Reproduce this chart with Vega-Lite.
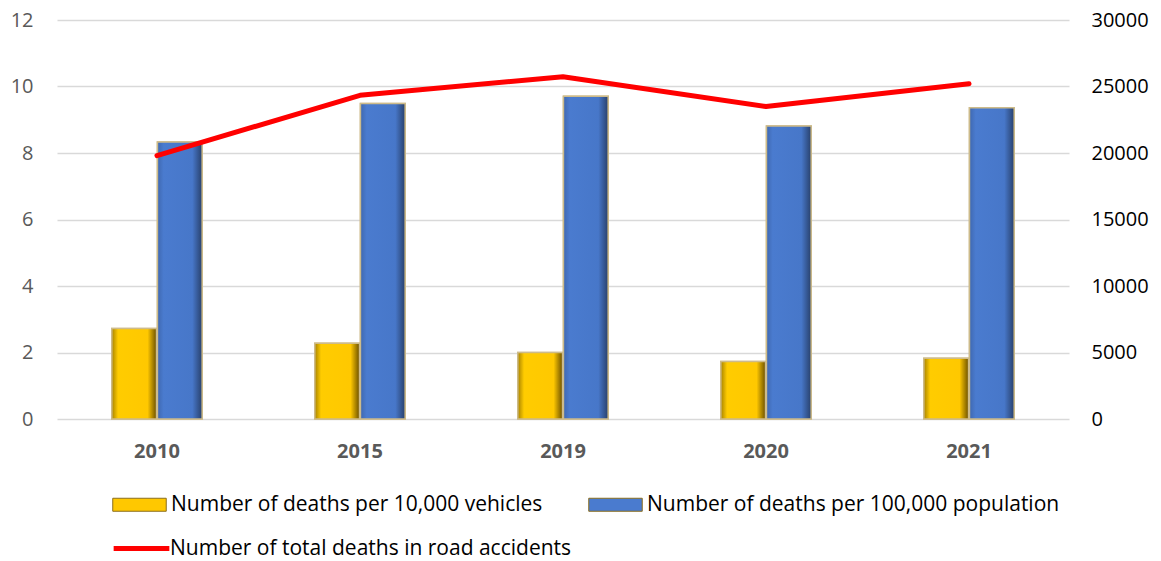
{
  "$schema": "https://vega.github.io/schema/vega-lite/v6.json",
  "autosize": {"type": "none"},
  "width": 1012,
  "height": 399,
  "padding": {"left": 57, "top": 20, "right": 92, "bottom": 142},
  "background": "white",
  "config": {
    "view": {"stroke": null},
    "font": "Open Sans"
  },
  "datasets": {
    "rates": [
      {"year": "2010", "series": "Number of deaths per 10,000 vehicles", "value": 2.72},
      {"year": "2010", "series": "Number of deaths per 100,000 population", "value": 8.33},
      {"year": "2015", "series": "Number of deaths per 10,000 vehicles", "value": 2.28},
      {"year": "2015", "series": "Number of deaths per 100,000 population", "value": 9.49},
      {"year": "2019", "series": "Number of deaths per 10,000 vehicles", "value": 2.0},
      {"year": "2019", "series": "Number of deaths per 100,000 population", "value": 9.71},
      {"year": "2020", "series": "Number of deaths per 10,000 vehicles", "value": 1.73},
      {"year": "2020", "series": "Number of deaths per 100,000 population", "value": 8.81},
      {"year": "2021", "series": "Number of deaths per 10,000 vehicles", "value": 1.83},
      {"year": "2021", "series": "Number of deaths per 100,000 population", "value": 9.36}
    ],
    "deaths": [
      {"year": "2010", "deaths": 19800},
      {"year": "2015", "deaths": 24340},
      {"year": "2019", "deaths": 25740},
      {"year": "2020", "deaths": 23490},
      {"year": "2021", "deaths": 25210}
    ]
  },
  "encoding": {
    "x": {
      "field": "year",
      "type": "ordinal",
      "scale": {"paddingInner": 0.555, "paddingOuter": 0.27},
      "axis": {
        "title": null,
        "labelAngle": 0,
        "labelFontSize": 20,
        "labelFontWeight": "bold",
        "labelColor": "#595959",
        "labelPadding": 22,
        "ticks": false,
        "domain": false
      }
    }
  },
  "layer": [
    {
      "data": {"name": "rates"},
      "encoding": {
        "xOffset": {"field": "series", "type": "nominal", "scale": {"paddingInner": 0.02}},
        "y": {
          "field": "value",
          "type": "quantitative",
          "scale": {"domain": [0, 12]},
          "axis": {
            "title": null,
            "values": [0, 2, 4, 6, 8, 10, 12],
            "labelFontSize": 20,
            "labelColor": "#595959",
            "labelPadding": 24,
            "ticks": false,
            "domain": false,
            "grid": true,
            "gridColor": "#D9D9D9",
            "gridWidth": 1.5
          }
        }
      },
      "layer": [
        {
          "mark": {"type": "bar", "stroke": "#CDBB8A", "strokeWidth": 1.5},
          "encoding": {
            "fill": {
              "field": "series",
              "type": "nominal",
              "scale": {
                "domain": ["Number of deaths per 10,000 vehicles", "Number of deaths per 100,000 population"],
                "range": ["#FFC800", "#4A7BCF"]
              },
              "legend": {
                "title": null,
                "orient": "none",
                "legendX": 55,
                "legendY": 457,
                "direction": "horizontal",
                "columns": 2,
                "columnPadding": 43,
                "padding": 0,
                "symbolType": "M-1,-0.243H1V0.243H-1Z",
                "symbolSize": 2862,
                "symbolStrokeColor": "#8A6D1E",
                "symbolStrokeWidth": 1,
                "labelFontSize": 21,
                "labelColor": "#000000",
                "labelOffset": 4,
                "labelLimit": 600
              }
            }
          }
        },
        {
          "transform": [{"filter": "datum.series == 'Number of deaths per 10,000 vehicles'"}],
          "mark": {
            "type": "bar",
            "stroke": "#CDBB8A",
            "strokeWidth": 1.5,
            "color": {
              "gradient": "linear",
              "x1": 0, "y1": 0, "x2": 1, "y2": 0,
              "stops": [
                {"offset": 0, "color": "#A88300"},
                {"offset": 0.14, "color": "#FFCC00"},
                {"offset": 0.8, "color": "#FFC800"},
                {"offset": 1, "color": "#6B5000"}
              ]
            }
          }
        },
        {
          "transform": [{"filter": "datum.series == 'Number of deaths per 100,000 population'"}],
          "mark": {
            "type": "bar",
            "stroke": "#CDBB8A",
            "strokeWidth": 1.5,
            "color": {
              "gradient": "linear",
              "x1": 0, "y1": 0, "x2": 1, "y2": 0,
              "stops": [
                {"offset": 0, "color": "#3F68B0"},
                {"offset": 0.14, "color": "#4A7BCF"},
                {"offset": 0.78, "color": "#4777C9"},
                {"offset": 1, "color": "#28406B"}
              ]
            }
          }
        }
      ]
    },
    {
      "data": {"name": "deaths"},
      "mark": {"type": "line", "strokeWidth": 5, "strokeCap": "round", "strokeJoin": "round"},
      "encoding": {
        "y": {
          "field": "deaths",
          "type": "quantitative",
          "scale": {"domain": [0, 30000]},
          "axis": {
            "title": null,
            "orient": "right",
            "values": [0, 5000, 10000, 15000, 20000, 25000, 30000],
            "format": "d",
            "labelFontSize": 20,
            "labelColor": "#000000",
            "labelPadding": 22,
            "ticks": false,
            "domain": false,
            "grid": false
          }
        },
        "stroke": {
          "datum": "Number of total deaths in road accidents",
          "scale": {"range": ["#FF0000"]},
          "legend": {
            "title": null,
            "orient": "none",
            "legendX": 54,
            "legendY": 498,
            "padding": 0,
            "symbolType": "stroke",
            "symbolSize": 3102,
            "symbolStrokeWidth": 5,
            "labelFontSize": 21,
            "labelColor": "#000000",
            "labelOffset": -2,
            "labelLimit": 600
          }
        }
      }
    }
  ],
  "resolve": {"scale": {"y": "independent"}}
}
